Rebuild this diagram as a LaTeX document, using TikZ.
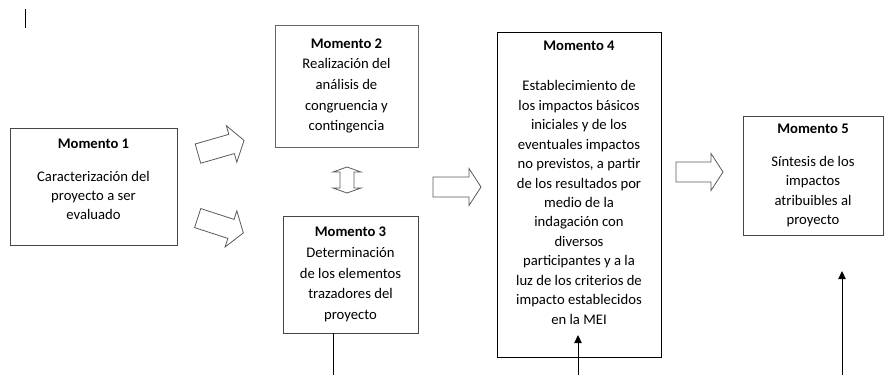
\documentclass[tikz,border=0pt]{standalone}
\usepackage{fontspec}
\setmainfont{Carlito}
\usepackage{tikz}
\usetikzlibrary{arrows.meta,positioning,calc}
\definecolor{boxgrey}{RGB}{70,70,70}
\definecolor{arrowgrey}{RGB}{90,90,90}

\begin{document}
\begin{tikzpicture}[
    x=0.75pt, y=-0.75pt,
    block/.style={rectangle, draw=boxgrey, line width=0.7pt, align=center,
        inner sep=0pt, font=\fontsize{11}{14.5}\selectfont},
    fat/.style={draw=arrowgrey, line width=0.6pt, line join=miter, fill=white},
    arr/.style={-{Triangle[length=6pt,width=5.5pt]}, line width=0.7pt},
    line/.style={line width=0.7pt}
]
    \useasboundingbox (0,0) rectangle (884,375);

    % cursor mark
    \draw[line width=0.6pt] (25,9) -- (25,28);

    % Momento 1
    \node[block, minimum width=125.25pt, minimum height=87.75pt] (m1) at (93.5,186.5)
        {\textbf{Momento 1}\\[10pt] Caracterización del\\ proyecto a ser\\ evaluado\\[-4pt]};

    % Momento 2 and 3
    \node[block, draw=black!60, font=\fontsize{11}{15.5}\selectfont,
          minimum width=107.25pt, minimum height=91.5pt] (m2) at (346.5,86)
        {\textbf{Momento 2}\\ Realización del\\ análisis de\\ congruencia y\\ contingencia};
    \node[block, font=\fontsize{11}{15.5}\selectfont,
          minimum width=101.25pt, minimum height=87.75pt] (m3) at (350.5,274.5)
        {\textbf{Momento 3}\\ Determinación\\ de los elementos\\ trazadores del\\ proyecto};

    % Momento 4
    \node[block, draw=black, font=\fontsize{11}{14.6}\selectfont,
          minimum width=123pt, minimum height=243.75pt] (m4) at (579,194.5)
        {\textbf{Momento 4}\\[15.4pt] Establecimiento de\\ los impactos básicos\\ iniciales y de los\\
         eventuales impactos\\ no previstos, a partir\\ de los resultados por\\ medio de la\\
         indagación con\\ diversos\\ participantes y a la\\ luz de los criterios de\\
         impacto establecidos\\ en la MEI\\[3pt]};

    % Momento 5
    \node[block, minimum width=105pt, minimum height=89.25pt] (m5) at (813,175.5)
        {\textbf{Momento 5}\\[10pt] Síntesis de los\\ impactos\\ atribuibles al\\ proyecto};

    % Block arrows
    \draw[fat, shift={(221,147)}, rotate=16]
        (-24,-10) -- (11,-10) -- (11,-19) -- (24,0) -- (11,19) -- (11,10) -- (-24,10) -- cycle;
    \draw[fat, shift={(220.5,225.5)}, rotate=-18]
        (-24,-10) -- (11,-10) -- (11,-19) -- (24,0) -- (11,19) -- (11,10) -- (-24,10) -- cycle;
    \draw[fat, shift={(457,187)}]
        (-24,-10) -- (12,-10) -- (12,-18.5) -- (24,0) -- (12,18.5) -- (12,10) -- (-24,10) -- cycle;
    \draw[fat, shift={(699.5,172)}]
        (-23.5,-10) -- (11.5,-10) -- (11.5,-18.5) -- (23.5,0) -- (11.5,18.5) -- (11.5,10) -- (-23.5,10) -- cycle;

    % Double arrow between Momento 2 and 3
    \draw[fat, shift={(347,180)}]
        (0,-13) -- (14,-8) -- (7,-8) -- (7,8) -- (14,8) -- (0,13) -- (-14,8) -- (-7,8)
        -- (-7,-8) -- (-14,-8) -- cycle;

    % Lines from below
    \coordinate (foot3) at (333,375);
    \coordinate (foot4) at (578,375);
    \coordinate (foot5) at (842,375);
    \coordinate (tip4) at (578,335);
    \coordinate (tip5) at (842,271);
    \draw[line] (foot3 |- m3.south) -- (foot3);
    \draw[arr] (foot4) -- (tip4);
    \draw[arr] (foot5) -- (tip5);
\end{tikzpicture}
\end{document}
